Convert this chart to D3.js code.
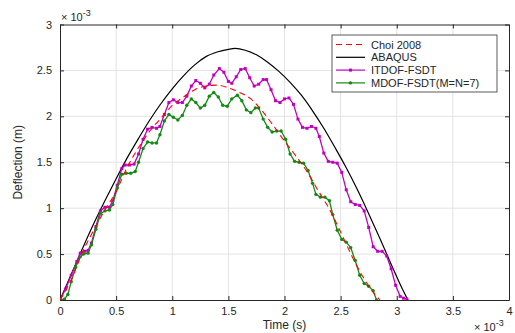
<!DOCTYPE html>
<html lang="en">
<head>
<meta charset="UTF-8">
<title>Deflection vs Time</title>
<script src="https://d3js.org/d3.v7.min.js"></script>
<style>
  body { margin: 0; background: #fff; }
  svg text { font-family: "Liberation Sans", Arial, Helvetica, sans-serif; fill: #262626; }
</style>
</head>
<body>
<script>
// values in units of 1e-3 (time in ms, deflection in mm-scale)
const xTicks = [0, 0.5, 1, 1.5, 2, 2.5, 3, 3.5, 4];
const yTicks = [0, 0.5, 1, 1.5, 2, 2.5, 3];
const seriesNames = ["Choi 2008", "ABAQUS", "ITDOF-FSDT", "MDOF-FSDT(M=N=7)"];

const choiT = [0, 0.1, 0.2, 0.3, 0.4, 0.5, 0.6, 0.7, 0.8, 0.9, 1.0, 1.1, 1.2, 1.3, 1.4, 1.5, 1.6, 1.7, 1.8, 1.9, 2.0, 2.1, 2.2, 2.3, 2.4, 2.5, 2.6, 2.7, 2.8, 2.85];
const choiY = [0, 0.22, 0.52, 0.76, 0.98, 1.18, 1.45, 1.66, 1.84, 1.98, 2.12, 2.21, 2.29, 2.33, 2.34, 2.31, 2.26, 2.19, 2.06, 1.90, 1.73, 1.57, 1.40, 1.19, 0.99, 0.74, 0.48, 0.25, 0.07, 0];

const abaqusT = [0, 0.1, 0.2, 0.3, 0.4, 0.5, 0.6, 0.7, 0.8, 0.9, 1.0, 1.1, 1.2, 1.3, 1.4, 1.5, 1.56, 1.65, 1.75, 1.85, 1.95, 2.05, 2.15, 2.25, 2.35, 2.45, 2.55, 2.65, 2.75, 2.85, 2.95, 3.05, 3.1];
const abaqusY = [0, 0.28, 0.56, 0.83, 1.08, 1.32, 1.55, 1.76, 1.96, 2.14, 2.30, 2.44, 2.56, 2.65, 2.70, 2.73, 2.74, 2.72, 2.67, 2.59, 2.49, 2.37, 2.23, 2.06, 1.87, 1.66, 1.44, 1.20, 0.94, 0.67, 0.39, 0.12, 0];

const itdofT = [0, 0.05, 0.1, 0.15, 0.18, 0.22, 0.25, 0.28, 0.32, 0.36, 0.40, 0.44, 0.47, 0.51, 0.55, 0.58, 0.62, 0.66, 0.70, 0.74, 0.78, 0.82, 0.86, 0.89, 0.93, 0.97, 1.01, 1.05, 1.09, 1.13, 1.17, 1.21, 1.25, 1.29, 1.33, 1.37, 1.42, 1.46, 1.50, 1.53, 1.57, 1.61, 1.65, 1.69, 1.73, 1.77, 1.81, 1.84, 1.88, 1.92, 1.96, 2.00, 2.04, 2.08, 2.12, 2.16, 2.20, 2.24, 2.28, 2.31, 2.35, 2.39, 2.43, 2.47, 2.51, 2.55, 2.59, 2.63, 2.67, 2.71, 2.75, 2.79, 2.83, 2.87, 2.91, 2.95, 2.99, 3.03, 3.06, 3.09];
const itdofY = [0, 0.12, 0.27, 0.42, 0.51, 0.53, 0.54, 0.62, 0.80, 0.97, 1.01, 1.01, 1.08, 1.25, 1.43, 1.47, 1.47, 1.48, 1.59, 1.75, 1.86, 1.88, 1.87, 1.89, 2.02, 2.15, 2.18, 2.15, 2.15, 2.22, 2.33, 2.39, 2.36, 2.31, 2.35, 2.45, 2.52, 2.48, 2.38, 2.36, 2.43, 2.51, 2.52, 2.42, 2.33, 2.35, 2.40, 2.40, 2.29, 2.17, 2.15, 2.19, 2.20, 2.13, 1.97, 1.88, 1.87, 1.89, 1.87, 1.78, 1.60, 1.51, 1.50, 1.49, 1.39, 1.20, 1.07, 1.04, 1.03, 0.97, 0.79, 0.58, 0.53, 0.53, 0.48, 0.34, 0.16, 0.04, 0.02, 0.01];

const mdofT = [0, 0.04, 0.07, 0.10, 0.14, 0.18, 0.21, 0.25, 0.28, 0.32, 0.36, 0.40, 0.44, 0.47, 0.51, 0.55, 0.59, 0.63, 0.67, 0.70, 0.74, 0.78, 0.82, 0.86, 0.89, 0.93, 0.97, 1.01, 1.05, 1.09, 1.13, 1.17, 1.21, 1.25, 1.29, 1.33, 1.37, 1.41, 1.45, 1.49, 1.53, 1.58, 1.62, 1.66, 1.70, 1.74, 1.77, 1.81, 1.85, 1.89, 1.93, 1.97, 2.01, 2.05, 2.09, 2.13, 2.17, 2.21, 2.25, 2.28, 2.32, 2.36, 2.40, 2.43, 2.47, 2.51, 2.55, 2.59, 2.63, 2.67, 2.71, 2.75, 2.79, 2.82];
const mdofY = [0, 0.01, 0.06, 0.20, 0.36, 0.47, 0.50, 0.51, 0.60, 0.77, 0.94, 0.97, 0.98, 1.04, 1.22, 1.37, 1.38, 1.38, 1.40, 1.50, 1.65, 1.72, 1.71, 1.71, 1.80, 1.95, 2.02, 1.99, 1.96, 2.01, 2.12, 2.19, 2.15, 2.09, 2.12, 2.22, 2.26, 2.21, 2.12, 2.11, 2.19, 2.23, 2.17, 2.07, 2.04, 2.09, 2.09, 1.97, 1.88, 1.83, 1.84, 1.84, 1.75, 1.59, 1.51, 1.50, 1.49, 1.41, 1.27, 1.15, 1.12, 1.12, 1.08, 0.93, 0.76, 0.66, 0.63, 0.57, 0.43, 0.27, 0.18, 0.15, 0.10, 0];

const width = 515, height = 333;
const margin = { left: 60, right: 6, top: 24.5, bottom: 33 };

const svg = d3.select("body").append("svg")
  .attr("width", width)
  .attr("height", height);

const x = d3.scaleLinear().domain([0, 4]).range([margin.left, width - margin.right]);
const y = d3.scaleLinear().domain([0, 3]).range([height - margin.bottom, margin.top]);

// grid
svg.append("g").selectAll("line").data(xTicks.slice(1, -1)).join("line")
  .attr("x1", d => x(d)).attr("x2", d => x(d))
  .attr("y1", y(0)).attr("y2", y(3))
  .attr("stroke", "#e3e3e3").attr("stroke-width", 1);
svg.append("g").selectAll("line").data(yTicks.slice(1, -1)).join("line")
  .attr("x1", x(0)).attr("x2", x(4))
  .attr("y1", d => y(d)).attr("y2", d => y(d))
  .attr("stroke", "#e3e3e3").attr("stroke-width", 1);

// axes (ticks inward)
const fmt = d => d3.format("")(d);
const axB = svg.append("g").attr("transform", `translate(0,${y(0)})`)
  .call(d3.axisBottom(x).tickValues(xTicks).tickFormat(fmt).tickSizeInner(-4).tickSizeOuter(0).tickPadding(7));
const axL = svg.append("g").attr("transform", `translate(${x(0)},0)`)
  .call(d3.axisLeft(y).tickValues(yTicks).tickFormat(fmt).tickSizeInner(-4).tickSizeOuter(0).tickPadding(8));
const axT = svg.append("g").attr("transform", `translate(0,${y(3)})`)
  .call(d3.axisTop(x).tickValues(xTicks).tickFormat("").tickSizeInner(-4).tickSizeOuter(0));
const axR = svg.append("g").attr("transform", `translate(${x(4)},0)`)
  .call(d3.axisRight(y).tickValues(yTicks).tickFormat("").tickSizeInner(-4).tickSizeOuter(0));
[axB, axL, axT, axR].forEach(g => {
  g.selectAll("path, line").attr("stroke", "#262626");
  g.selectAll("text").attr("font-size", 11).attr("fill", "#262626")
    .style("font-family", "'Liberation Sans', Arial, sans-serif");
});

// clip
svg.append("clipPath").attr("id", "clip").append("rect")
  .attr("x", x(0)).attr("y", y(3) - 3).attr("width", x(4) - x(0)).attr("height", y(0) - y(3) + 3);

const line = d3.line().x(d => x(d[0])).y(d => y(d[1]));
const smooth = d3.line().curve(d3.curveMonotoneX).x(d => x(d[0])).y(d => y(d[1]));
const plot = svg.append("g").attr("clip-path", "url(#clip)");

const abaqus = abaqusT.map((t, i) => [t, abaqusY[i]]);
const itdof = itdofT.map((t, i) => [t, itdofY[i]]);
const mdof = mdofT.map((t, i) => [t, mdofY[i]]);
const choi = choiT.map((t, i) => [t, choiY[i]]);

plot.append("path").datum(abaqus).attr("d", smooth)
  .attr("fill", "none").attr("stroke", "#000").attr("stroke-width", 1.2);

plot.append("path").datum(itdof).attr("d", line)
  .attr("fill", "none").attr("stroke", "#c000c0").attr("stroke-width", 1.3);
plot.append("g").selectAll("rect").data(itdof).join("rect")
  .attr("x", d => x(d[0]) - 1.5).attr("y", d => y(d[1]) - 1.5)
  .attr("width", 3).attr("height", 3).attr("fill", "#c000c0");

plot.append("path").datum(mdof).attr("d", line)
  .attr("fill", "none").attr("stroke", "#138a13").attr("stroke-width", 1.3);
plot.append("g").selectAll("circle").data(mdof).join("circle")
  .attr("cx", d => x(d[0])).attr("cy", d => y(d[1])).attr("r", 1.7)
  .attr("fill", "#138a13");

plot.append("path").datum(choi).attr("d", smooth)
  .attr("fill", "none").attr("stroke", "#ff0000").attr("stroke-width", 1.1)
  .attr("stroke-dasharray", "6,4");

// axis labels
svg.append("text").attr("x", x(2)).attr("y", 329).attr("text-anchor", "middle")
  .attr("font-size", 12).text("Time (s)");
svg.append("text").attr("transform", `translate(22,${y(1.5)}) rotate(-90)`)
  .attr("text-anchor", "middle").attr("font-size", 12).text("Deflection (m)");

// exponent labels
const yExp = svg.append("text").attr("x", x(0) + 1).attr("y", 21).attr("font-size", 11);
yExp.append("tspan").text("\u00d7 10");
yExp.append("tspan").attr("dy", -5).attr("font-size", 9).text("-3");
const xExp = svg.append("text").attr("x", 474).attr("y", 331).attr("font-size", 11);
xExp.append("tspan").text("\u00d7 10");
xExp.append("tspan").attr("dy", -5).attr("font-size", 9).text("-3");

// legend
const lg = svg.append("g").attr("transform", "translate(332,35)");
lg.append("rect").attr("width", 165).attr("height", 57)
  .attr("fill", "#fff").attr("stroke", "#333").attr("stroke-width", 0.8);
const styles = [
  { color: "#ff0000", dash: "6,4", marker: null },
  { color: "#000", dash: null, marker: null },
  { color: "#c000c0", dash: null, marker: "square" },
  { color: "#138a13", dash: null, marker: "circle" }
];
seriesNames.forEach((name, i) => {
  const yy = 9.5 + i * 12.8;
  const s = styles[i];
  lg.append("line").attr("x1", 4).attr("x2", 33).attr("y1", yy).attr("y2", yy)
    .attr("stroke", s.color).attr("stroke-width", 1.2)
    .attr("stroke-dasharray", s.dash);
  if (s.marker === "square") lg.append("rect").attr("x", 17).attr("y", yy - 1.5).attr("width", 3).attr("height", 3).attr("fill", s.color);
  if (s.marker === "circle") lg.append("circle").attr("cx", 18.5).attr("cy", yy).attr("r", 1.7).attr("fill", s.color);
  lg.append("text").attr("x", 39).attr("y", yy + 4).attr("font-size", 11).text(name);
});
</script>
</body>
</html>
